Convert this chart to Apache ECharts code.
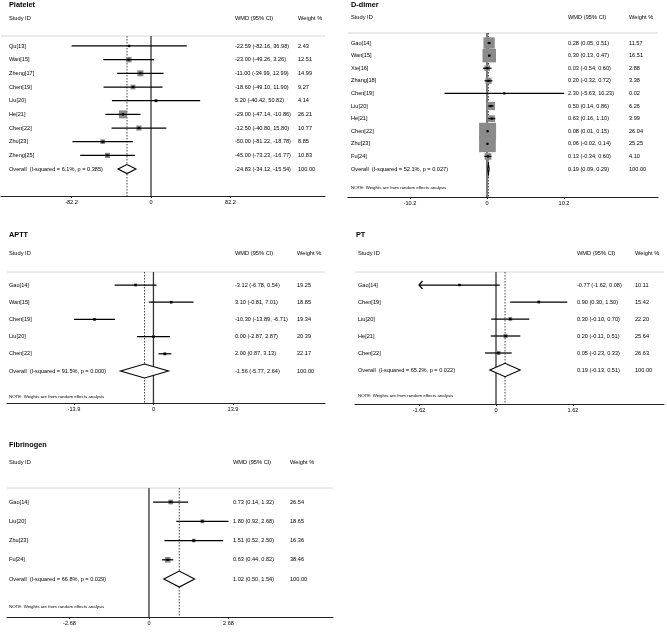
<!DOCTYPE html>
<html><head><meta charset="utf-8">
<script src="https://cdn.jsdelivr.net/npm/echarts/dist/echarts.min.js"></script>
<style>html,body{margin:0;padding:0;background:#fff}#c{width:667px;height:641px}</style>
</head><body><div id="c"></div>
<script>
// ---------------- DATA ----------------
const plateletIds = ['Qu[13]','Wan[15]','Zheng[17]','Chen[19]','Liu[20]','He[21]','Chen[22]','Zhu[23]','Zheng[25]'];
const plateletWmd = [-22.59,-23.00,-11.00,-18.60,5.20,-29.00,-12.50,-50.00,-45.00];
const plateletLow = [-82.16,-49.26,-34.99,-49.10,-40.42,-47.14,-40.80,-81.22,-73.23];
const plateletHigh = [36.98,3.26,12.99,11.90,50.82,-10.86,15.80,-18.78,-16.77];
const plateletWeight = [2.43,12.51,14.99,9.27,4.14,26.21,10.77,8.85,10.83];
const plateletOverall = [-24.83,-34.12,-15.54];
const plateletHet = 'I-squared = 6.1%, p = 0.385';
const plateletTicks = [-82.2, 0, 82.2];

const ddimerIds = ['Gao[14]','Wan[15]','Xie[16]','Zhang[18]','Chen[19]','Liu[20]','He[21]','Chen[22]','Zhu[23]','Fu[24]'];
const ddimerWmd = [0.28,0.30,0.03,0.20,2.30,0.50,0.63,0.08,0.06,0.13];
const ddimerLow = [0.05,0.13,-0.54,-0.32,-5.63,0.14,0.16,0.01,-0.02,-0.34];
const ddimerHigh = [0.51,0.47,0.60,0.72,10.23,0.86,1.10,0.15,0.14,0.60];
const ddimerWeight = [11.57,16.51,2.88,3.38,0.02,6.26,3.99,26.04,25.25,4.10];
const ddimerOverall = [0.19,0.09,0.29];
const ddimerHet = 'I-squared = 52.1%, p = 0.027';
const ddimerTicks = [-10.2, 0, 10.2];

const apttIds = ['Gao[14]','Wan[15]','Chen[19]','Liu[20]','Chen[22]'];
const apttWmd = [-3.12,3.10,-10.30,0.00,2.00];
const apttLow = [-6.78,-0.81,-13.89,-2.87,0.87];
const apttHigh = [0.54,7.01,-6.71,2.87,3.13];
const apttWeight = [19.25,18.85,19.34,20.39,22.17];
const apttOverall = [-1.56,-5.77,2.64];
const apttHet = 'I-squared = 91.5%, p = 0.000';
const apttTicks = [-13.9, 0, 13.9];

const ptIds = ['Gao[14]','Chen[19]','Liu[20]','He[21]','Chen[22]'];
const ptWmd = [-0.77,0.90,0.30,0.20,0.05];
const ptLow = [-1.62,0.30,-0.10,-0.11,-0.23];
const ptHigh = [0.08,1.50,0.70,0.51,0.33];
const ptWeight = [10.11,15.42,22.20,25.64,26.63];
const ptOverall = [0.19,-0.13,0.51];
const ptHet = 'I-squared = 65.2%, p = 0.022';
const ptTicks = [-1.62, 0, 1.62];

const fibIds = ['Gao[14]','Liu[20]','Zhu[23]','Fu[24]'];
const fibWmd = [0.73,1.80,1.51,0.63];
const fibLow = [0.14,0.92,0.52,0.44];
const fibHigh = [1.32,2.68,2.50,0.82];
const fibWeight = [26.54,18.65,16.36,38.46];
const fibOverall = [1.02,0.50,1.54];
const fibHet = 'I-squared = 66.8%, p = 0.029';
const fibTicks = [-2.68, 0, 2.68];

const noteText = 'NOTE: Weights are from random effects analysis';

// ---------------- LAYOUT / STYLE ----------------
const FONT = '"Liberation Sans", Arial, Helvetica, sans-serif';
const panels = [
  {title:'Platelet', ids:plateletIds, est:plateletWmd, lo:plateletLow, hi:plateletHigh, wt:plateletWeight, ov:plateletOverall, het:plateletHet, ticks:plateletTicks, note:false,
   L:{left:1, top:36, width:324, height:160, xMin:-155.1, xMax:179.9, yMin:-0.73, yMax:10.97, titleRow:-3, headRow:-2, noteRow:null, titleX:8, nameX:8, wmdX:234, wtX:297, boxK:1.56, diaH:4.5}},
  {title:'D-dimer', ids:ddimerIds, est:ddimerWmd, lo:ddimerLow, hi:ddimerHigh, wt:ddimerWeight, ov:ddimerOverall, het:ddimerHet, ticks:ddimerTicks, note:true,
   L:{left:348, top:33, width:310, height:164, xMin:-18.41, xMax:22.65, yMin:-0.794, yMax:12.22, titleRow:-3.02, headRow:-2.06, noteRow:11.5, titleX:3, nameX:3, wmdX:220, wtX:281, boxK:3.33, diaH:5}},
  {title:'APTT', ids:apttIds, est:apttWmd, lo:apttLow, hi:apttHigh, wt:apttWeight, ov:apttOverall, het:apttHet, ticks:apttTicks, note:true,
   L:{left:7, top:272, width:318, height:131, xMin:-25.6, xMax:29.99, yMin:-0.756, yMax:6.86, titleRow:-2.91, headRow:-1.86, noteRow:6.51, titleX:2, nameX:2, wmdX:228, wtX:290, boxK:0.67, diaH:7}},
  {title:'PT', ids:ptIds, est:ptWmd, lo:ptLow, hi:ptHigh, wt:ptWeight, ov:ptOverall, het:ptHet, ticks:ptTicks, note:true,
   L:{left:355, top:272, width:309, height:132, xMin:-2.967, xMax:3.535, yMin:-0.765, yMax:7.0, titleRow:-2.94, headRow:-1.88, noteRow:6.53, titleX:1, nameX:3, wmdX:222, wtX:280, boxK:0.8, diaH:6.7}},
  {title:'Fibrinogen', ids:fibIds, est:fibWmd, lo:fibLow, hi:fibHigh, wt:fibWeight, ov:fibOverall, het:fibHet, ticks:fibTicks, note:true,
   L:{left:7, top:488, width:326, height:129, xMin:-4.787, xMax:6.204, yMin:-0.727, yMax:5.97, titleRow:-2.96, headRow:-2.03, noteRow:5.45, titleX:2, nameX:2, wmdX:226, wtX:283, boxK:0.9, diaH:8}}
];

const fmt = v => v.toFixed(2);
function txt(x, y, s, size, bold, color) {
  return {type:'text', x:x, y:y, silent:true, style:{text:s, fill:color||'#000', font:(bold?'bold ':'')+size+'px '+FONT, textAlign:'left', textVerticalAlign:'middle'}};
}
function seg(p1, p2, color, w, dash) {
  return {type:'line', silent:true, shape:{x1:p1[0], y1:p1[1], x2:p2[0], y2:p2[1]}, style:{stroke:color, lineWidth:w, lineDash:dash||null}};
}

const grids = [], xAxes = [], yAxes = [], series = [];
panels.forEach((P, k) => {
  const L = P.L;
  grids.push({left:L.left, top:L.top, width:L.width, height:L.height, containLabel:false, outerBoundsMode:'none'});
  xAxes.push({type:'value', gridIndex:k, min:L.xMin, max:L.xMax, splitLine:{show:false},
    axisLine:{show:true, onZero:false, lineStyle:{color:'#222', width:1.2}},
    axisTick:{show:true, customValues:P.ticks, length:2, lineStyle:{color:'#222', width:1}},
    axisLabel:{customValues:P.ticks, formatter:v => String(v), fontSize:5.6, color:'#000', fontFamily:FONT, margin:3}});
  yAxes.push({type:'value', gridIndex:k, inverse:true, min:L.yMin, max:L.yMax, show:false});

  // decorations: header line, zero line, overall dashed line, title, headers, note
  series.push({type:'custom', xAxisIndex:k, yAxisIndex:k, clip:false, silent:true, z:1,
    data:[[P.ov[0], L.yMin]],
    renderItem:(params, api) => {
      const cs = params.coordSys;
      const ch = [];
      ch.push(seg([cs.x, cs.y], [cs.x + cs.width, cs.y], '#d6d6d6', 1));
      ch.push(seg(api.coord([P.ov[0], L.yMin]), api.coord([P.ov[0], L.yMax]), '#444', 1, [1.5, 1.5]));
      ch.push(seg(api.coord([0, L.yMin]), api.coord([0, L.yMax]), '#333', 1.3));
      ch.push(txt(cs.x + L.titleX, api.coord([0, L.titleRow])[1], P.title, 7.3, true));
      const hy = api.coord([0, L.headRow])[1];
      ch.push(txt(cs.x + L.nameX, hy, 'Study ID', 5.7));
      ch.push(txt(cs.x + L.wmdX, hy, 'WMD (95% CI)', 5.7));
      ch.push(txt(cs.x + L.wtX, hy, 'Weight %', 5.7));
      if (P.note) ch.push(txt(cs.x + L.nameX, api.coord([0, L.noteRow])[1], noteText, 4.4));
      return {type:'group', children:ch};
    }});

  // individual studies
  series.push({type:'custom', xAxisIndex:k, yAxisIndex:k, clip:false, silent:true, z:2,
    data:P.ids.map((_, i) => [P.est[i], i, P.lo[i], P.hi[i], P.wt[i]]),
    renderItem:(params, api) => {
      const cs = params.coordSys;
      const i = params.dataIndex;
      const est = api.value(0), row = api.value(1), lo = api.value(2), hi = api.value(3), w = api.value(4);
      const c = api.coord([est, row]);
      const clipLeft = lo <= P.ticks[0] + 1e-9;
      const pLo = api.coord([clipLeft ? P.ticks[0] : lo, row]);
      const pHi = api.coord([hi, row]);
      const side = L.boxK * Math.sqrt(w);
      const ch = [];
      ch.push({type:'rect', silent:true, shape:{x:c[0]-side/2, y:c[1]-side/2, width:side, height:side}, style:{fill:'#8a8a8a'}});
      ch.push(seg(pLo, pHi, '#000', 1.25));
      if (clipLeft) {
        ch.push({type:'polyline', silent:true, shape:{points:[[pLo[0]+3.5, pLo[1]-4], pLo, [pLo[0]+3.5, pLo[1]+4]]}, style:{stroke:'#000', lineWidth:1.2, fill:null}});
      }
      ch.push({type:'rect', silent:true, shape:{x:c[0]-1.1, y:c[1]-1.1, width:2.2, height:2.2}, style:{fill:'#000'}});
      ch.push(txt(cs.x + L.nameX, c[1], P.ids[i], 5.6));
      ch.push(txt(cs.x + L.wmdX, c[1], fmt(est) + ' (' + fmt(lo) + ', ' + fmt(hi) + ')', 5.6));
      ch.push(txt(cs.x + L.wtX, c[1], fmt(w), 5.6));
      return {type:'group', children:ch};
    }});

  // overall diamond
  series.push({type:'custom', xAxisIndex:k, yAxisIndex:k, clip:false, silent:true, z:3,
    data:[[P.ov[0], P.ids.length, P.ov[1], P.ov[2], 100]],
    renderItem:(params, api) => {
      const cs = params.coordSys;
      const est = api.value(0), row = api.value(1), lo = api.value(2), hi = api.value(3);
      const c = api.coord([est, row]), pl = api.coord([lo, row]), ph = api.coord([hi, row]);
      const ch = [];
      ch.push({type:'polygon', silent:true, shape:{points:[pl, [c[0], c[1]-L.diaH], ph, [c[0], c[1]+L.diaH]]}, style:{fill:'#fff', stroke:'#000', lineWidth:1.1}});
      ch.push(txt(cs.x + L.nameX, c[1], 'Overall  (' + P.het + ')', 5.6));
      ch.push(txt(cs.x + L.wmdX, c[1], fmt(est) + ' (' + fmt(lo) + ', ' + fmt(hi) + ')', 5.6));
      ch.push(txt(cs.x + L.wtX, c[1], fmt(api.value(4)), 5.6));
      return {type:'group', children:ch};
    }});
});

const chart = echarts.init(document.getElementById('c'), null, {renderer:'canvas'});
chart.setOption({animation:false, backgroundColor:'#fff', grid:grids, xAxis:xAxes, yAxis:yAxes, series:series});
</script></body></html>
